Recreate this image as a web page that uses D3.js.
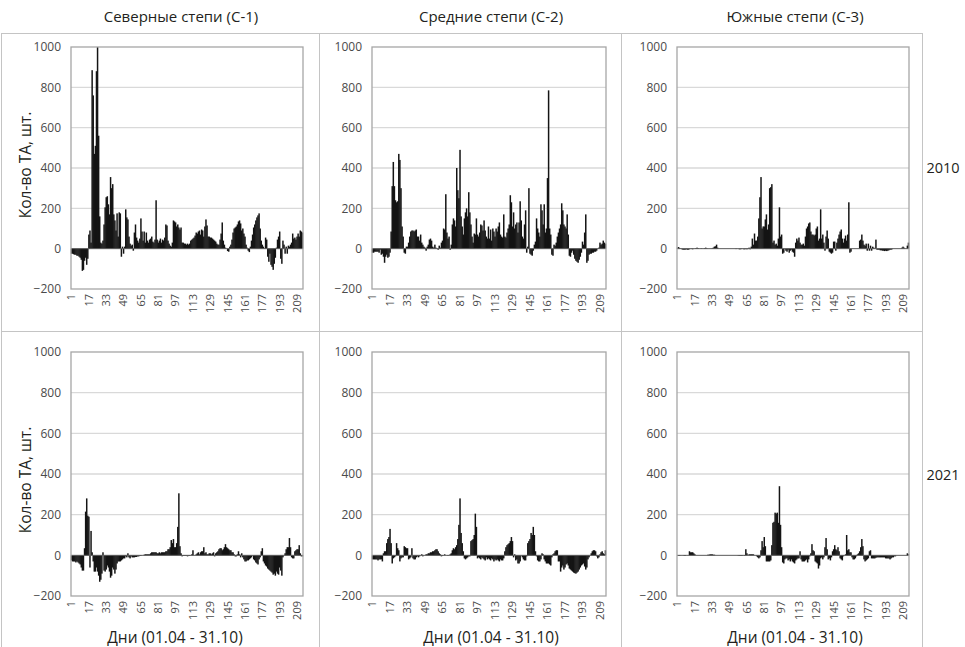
<!DOCTYPE html>
<html>
<head>
<meta charset="utf-8">
<script src="https://cdn.jsdelivr.net/npm/d3@7"></script>
<style>
    body { margin: 0; background: #fff; }
    text { font-family: 'Open Sans', sans-serif; }
</style>
</head>
<body>
<script>
// days 01.04 - 31.10
const days = d3.range(1, 215);
const dayTicks = [1, 17, 33, 49, 65, 81, 97, 113, 129, 145, 161, 177, 193, 209];
const yTicks = [-200, 0, 200, 400, 600, 800, 1000];
const regions = ['Северные степи (С-1)', 'Средние степи (С-2)', 'Южные степи (С-3)'];
const years = ['2010', '2021'];
const yTitle = 'Кол-во ТА, шт.';
const xTitle = 'Дни (01.04 - 31.10)';

const north2010 = [
    -25,-25,-28,-30,-30,-35,-35,-40,-45,-55,-110,-105,-60,-45,-80,-50,
    70,90,30,885,760,470,510,880,1000,560,160,30,25,40,120,205,
    255,260,220,170,355,300,320,170,140,90,175,60,180,175,-40,10,
    -25,10,195,155,145,60,25,15,20,-10,80,120,55,40,30,50,
    150,85,40,85,30,80,40,30,45,50,60,35,30,45,240,45,
    30,40,50,30,45,40,55,120,115,40,25,15,10,30,140,135,
    130,110,120,105,95,105,30,30,25,25,20,25,20,25,40,45,
    50,55,65,80,75,85,90,70,95,90,60,110,145,115,60,60,
    55,55,50,45,40,35,25,20,20,45,75,130,40,20,5,0,
    -12,-15,10,20,45,80,100,105,110,120,135,140,125,90,100,75,
    60,20,5,-10,-17,10,40,70,105,120,140,155,165,175,100,40,
    20,10,0,55,45,-40,-65,-25,-80,-90,-105,-75,-45,5,45,60,
    85,-50,-75,40,20,-25,10,-25,15,10,20,30,75,50,55,45,
    60,75,60,90,85,80
];
const middle2010 = [
    -20,-20,-15,-15,-15,-15,-20,-5,-30,-25,-40,-70,-40,-30,-45,-40,
    -20,85,310,430,310,240,230,235,470,440,300,110,60,-20,-25,10,
    10,30,60,85,90,90,85,90,95,60,60,40,70,30,20,10,
    5,-10,10,20,45,50,40,10,5,20,5,0,-5,15,5,30,
    40,100,95,270,80,50,60,-5,20,120,150,140,110,400,290,250,
    490,160,110,70,150,180,200,160,280,180,120,60,30,75,70,150,
    70,60,80,120,115,90,140,90,60,50,110,50,95,40,100,85,
    60,100,85,110,130,70,60,55,170,60,55,80,100,120,265,230,
    110,180,100,120,130,80,130,235,140,60,50,120,190,-20,10,300,
    -25,-30,-35,-10,20,35,150,100,80,60,220,190,120,220,80,100,
    350,785,100,70,-30,-35,20,15,30,60,80,100,120,225,190,120,
    110,100,170,70,-35,-40,-20,-10,-30,-50,-60,-65,-70,-55,-40,-20,
    35,20,80,170,-70,-60,-30,-25,-25,-20,-20,-15,-15,-10,0,5,
    30,20,25,40,30,25
];
const south2010 = [
    5,8,3,0,-3,-5,-5,-5,-3,-5,-5,-3,0,-2,-3,0,
    0,3,5,3,0,0,2,0,0,3,5,2,0,0,0,0,
    2,5,10,12,20,5,0,0,0,0,0,0,0,0,0,0,
    0,0,0,0,0,0,-2,0,0,-3,-3,-2,0,-3,-3,-2,
    -3,-2,5,-3,10,50,20,75,40,40,60,150,255,355,100,110,
    110,145,170,95,120,300,305,320,30,40,20,25,15,50,205,60,
    70,-25,-20,0,-10,-15,-5,-20,-10,-5,-15,-20,-40,30,50,40,
    55,30,20,20,25,15,60,100,110,125,130,85,70,70,65,70,
    100,110,40,50,195,50,70,30,-10,60,90,50,-15,-20,-25,-20,
    35,35,-10,30,50,70,85,95,50,30,50,65,40,70,230,-20,
    -15,0,0,0,0,0,0,0,40,45,70,40,20,15,25,-10,
    25,-10,15,-10,10,5,0,45,-5,-5,-5,-8,-8,-10,-10,-12,
    -10,-12,-10,-8,-5,-5,-3,0,0,0,0,0,0,0,0,5,
    10,5,0,0,15,30
];
const north2021 = [
    -25,-30,-30,-30,-35,-30,-35,-40,-45,-60,-75,-75,35,215,280,195,
    190,-60,120,15,-30,-80,-80,-60,-80,-100,-130,-120,-90,15,-75,-80,
    -70,-50,-60,-80,-110,-100,-60,-70,-90,-70,-40,-30,-30,-30,-25,-20,
    -15,-15,-5,-10,10,-10,-15,-5,-10,-10,-10,-8,-8,-5,-5,-3,
    -3,0,0,3,5,5,5,5,5,10,15,15,15,15,15,10,
    10,15,10,15,15,15,15,20,20,30,30,40,75,60,80,40,
    40,60,140,305,45,10,-5,-3,-3,-3,-3,-5,-3,-3,0,5,
    25,0,0,5,10,15,5,15,20,20,40,10,15,5,5,10,
    10,5,10,15,-5,10,15,20,30,35,35,25,30,40,55,40,
    35,30,25,25,15,15,5,-5,-5,5,20,5,-10,10,-10,-20,
    -30,-30,-25,-25,-20,-15,-10,0,-20,-25,-35,-40,-45,-20,-10,20,
    35,-30,-40,-50,-55,-65,-70,-75,-80,-85,-95,-90,-100,-80,-90,-95,
    -60,-75,-100,-10,0,10,30,40,40,85,40,-10,-15,-15,20,25,
    30,30,50,10,-5,-5
];
const middle2021 = [
    -20,-20,-20,-20,-20,-25,-20,-20,-20,-30,10,20,20,60,80,90,
    130,60,-40,-15,-10,-5,60,35,25,-30,-15,-10,-10,45,40,35,
    35,-20,-15,-10,35,-15,-20,-20,-10,-5,-10,-5,0,5,-5,0,
    0,5,5,10,10,15,15,20,20,25,30,30,20,10,5,-5,
    -3,0,5,0,0,-3,0,5,10,25,35,30,40,50,80,150,
    280,110,60,20,-15,-20,-15,-10,-5,-5,70,75,80,100,205,140,
    -15,-10,-15,-20,-10,-15,-20,-25,-10,-20,-15,-20,-25,-15,-20,-30,
    -20,-25,-20,-25,-30,-20,-25,-25,-15,20,40,50,55,60,70,90,
    70,-10,5,-25,-20,-40,-40,-30,0,-10,-20,-25,-25,-5,60,70,
    80,110,100,140,100,20,-5,-25,-30,-30,-20,10,5,-20,-30,-40,
    -40,-40,-45,-50,-10,5,10,20,25,25,-30,-30,-80,-60,-50,-70,
    -60,-45,-40,-50,-65,-70,-75,-80,-85,-88,-90,-85,-80,-70,-60,-50,
    -45,-40,-55,-70,-60,-20,-10,0,10,20,25,25,20,-5,-15,-10,
    5,15,20,10,5,25
];
const south2021 = [
    0,-2,-2,0,0,0,-2,-3,0,0,0,20,15,15,15,10,
    5,0,0,0,0,0,0,0,0,0,0,0,3,3,5,5,
    5,3,3,0,0,0,0,0,0,0,0,0,0,0,0,0,
    0,0,0,0,0,0,0,0,-2,-3,-3,-3,-2,0,-3,30,
    10,0,5,5,5,5,5,0,0,-5,-10,-15,-10,25,70,40,
    90,45,-30,-30,-30,-30,-25,50,160,165,210,205,210,160,340,150,
    40,-35,-40,-20,-15,-15,-25,-20,-30,-20,-30,-35,-40,-25,-20,-15,
    -15,20,-20,-30,-30,-30,-25,-20,-35,-20,-5,10,55,25,20,-30,
    -35,-40,-65,-50,-15,-10,-20,-10,40,85,30,-20,-15,-25,-10,20,
    30,50,30,25,40,20,-15,-20,-25,-5,0,5,100,25,30,15,
    15,-10,-20,-20,-15,-5,5,10,20,40,80,45,-20,-30,-25,-20,
    -15,20,25,-15,-15,-15,-15,-12,-10,-10,-10,-10,-10,-10,-10,-10,
    -15,-15,-15,-15,-20,-15,-10,-10,-5,-5,0,0,0,0,0,0,
    0,0,0,0,10,5
];

const series = [
    [north2010, middle2010, south2010],
    [north2021, middle2021, south2021]
];

// layout
const W = 965, H = 647;
const colBox = [[71, 303], [372, 606], [677, 909]];
const rowBox = [[47, 289], [352, 596]];
const frameX = [1.5, 319.5, 621.5, 922.5];
const frameY = [33.5, 331.5, 660];
const titleX = [181, 491, 795];
const xTitleX = [175, 491, 795];
const ink = '#231f20';

const svg = d3.select('body').append('svg')
    .attr('width', W)
    .attr('height', H)
    .style('background', '#fff');

function renderPanel(col, row, values) {
    const [x0, x1] = colBox[col];
    const [y0, y1] = rowBox[row];
    const x = d3.scaleBand().domain(days).range([x0, x1]).padding(0);
    const y = d3.scaleLinear().domain([-200, 1000]).range([y1, y0]);
    const g = svg.append('g').attr('class', 'panel');

    g.append('rect')
        .attr('x', frameX[col])
        .attr('y', frameY[row])
        .attr('width', frameX[col + 1] - frameX[col])
        .attr('height', frameY[row + 1] - frameY[row])
        .attr('fill', 'none')
        .attr('stroke', '#c4c4c4');

    g.selectAll('line.grid')
        .data(yTicks.filter(v => v > 0 && v < 1000))
        .join('line')
        .attr('class', 'grid')
        .attr('x1', x0).attr('x2', x1)
        .attr('y1', d => y(d)).attr('y2', d => y(d))
        .attr('stroke', '#d9d9d9')
        .attr('stroke-width', 1.3);

    // bars overlap a little so that neighbours read as one solid block
    g.selectAll('rect.bar')
        .data(values)
        .join('rect')
        .attr('class', 'bar')
        .attr('x', (_d, i) => x(days[i]) - 0.2)
        .attr('width', x.bandwidth() + 0.4)
        .attr('y', d => y(Math.max(0, d)))
        .attr('height', d => Math.abs(y(d) - y(0)))
        .attr('fill', '#141414');

    g.append('line')
        .attr('x1', x0).attr('x2', x1)
        .attr('y1', y(0)).attr('y2', y(0))
        .attr('stroke', '#5a5a5a')
        .attr('stroke-width', 1);

    g.append('rect')
        .attr('x', x0).attr('y', y0)
        .attr('width', x1 - x0).attr('height', y1 - y0)
        .attr('fill', 'none')
        .attr('stroke', '#a6a6a6')
        .attr('stroke-width', 1.3);

    const yAxis = g.append('g')
        .attr('transform', 'translate(' + x0 + ',0)')
        .call(d3.axisLeft(y)
            .tickValues(yTicks)
            .tickFormat(d3.format('d'))
            .tickSize(0)
            .tickPadding(10));
    yAxis.select('.domain').remove();
    yAxis.selectAll('text')
        .style('font-family', "'Open Sans', sans-serif")
        .style('font-size', '12px')
        .attr('fill', '#4a4a4a');

    const xAxis = g.append('g')
        .attr('transform', 'translate(0,' + y1 + ')')
        .call(d3.axisBottom(x).tickValues(dayTicks).tickSize(0));
    xAxis.select('.domain').remove();
    xAxis.selectAll('text')
        .attr('transform', 'rotate(-90)')
        .attr('text-anchor', 'end')
        .attr('x', -5)
        .attr('y', 0)
        .attr('dy', '0.35em')
        .style('font-family', "'Open Sans', sans-serif")
        .style('font-size', '11px')
        .attr('fill', '#4a4a4a');
}

series.forEach((rowSeries, row) => {
    rowSeries.forEach((values, col) => renderPanel(col, row, values));
});

// column titles
svg.selectAll('text.col-title')
    .data(regions)
    .join('text')
    .attr('class', 'col-title')
    .attr('x', (_d, i) => titleX[i])
    .attr('y', 22)
    .attr('text-anchor', 'middle')
    .style('font-size', '15px')
    .attr('fill', ink)
    .text(d => d);

// row labels
svg.selectAll('text.row-title')
    .data(years)
    .join('text')
    .attr('class', 'row-title')
    .attr('x', 943)
    .attr('y', (_d, i) => i ? 480 : 173)
    .attr('text-anchor', 'middle')
    .style('font-size', '14.5px')
    .attr('fill', ink)
    .text(d => d);

// y axis titles, left column only
rowBox.forEach((_box, i) => {
    svg.append('text')
        .attr('transform', 'translate(31,' + (i ? 480 : 165) + ') rotate(-90)')
        .attr('text-anchor', 'middle')
        .style('font-size', '15.5px')
        .attr('fill', ink)
        .text(yTitle);
});

// x axis titles, bottom row only
xTitleX.forEach(cx => {
    svg.append('text')
        .attr('x', cx)
        .attr('y', 643)
        .attr('text-anchor', 'middle')
        .style('font-size', '15.5px')
        .attr('fill', ink)
        .text(xTitle);
});
</script>
</body>
</html>
